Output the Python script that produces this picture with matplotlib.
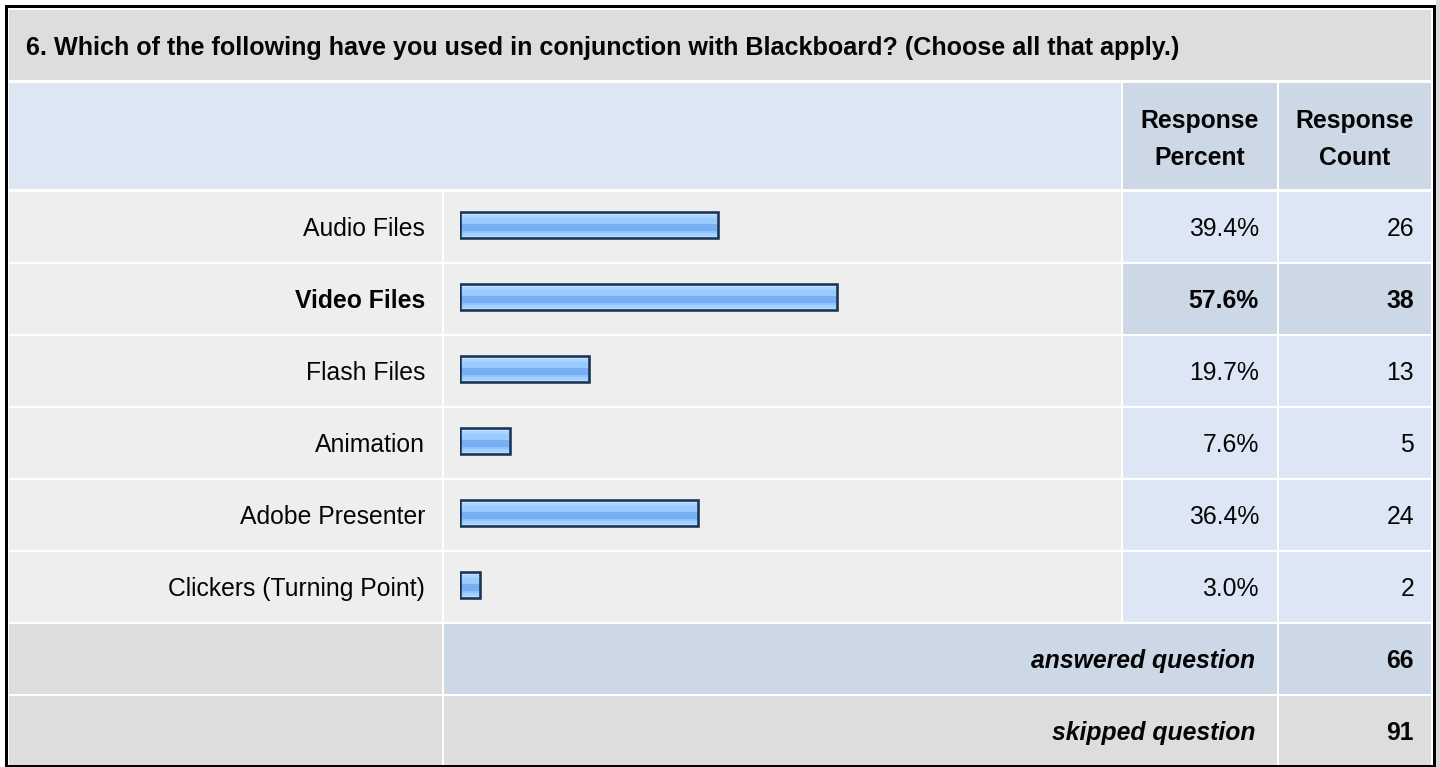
import matplotlib
matplotlib.use("Agg")
import matplotlib.pyplot as plt
from matplotlib.patches import Rectangle
import numpy as np

plt.rcParams['font.family'] = ['Liberation Sans', 'DejaVu Sans']

title = "6. Which of the following have you used in conjunction with Blackboard? (Choose all that apply.)"
categories = ["Audio Files", "Video Files", "Flash Files", "Animation",
              "Adobe Presenter", "Clickers (Turning Point)"]
percents = [39.4, 57.6, 19.7, 7.6, 36.4, 3.0]
counts = [26, 38, 13, 5, 24, 2]
header_pct = "Response\nPercent"
header_cnt = "Response\nCount"
answered_label = "answered question"
answered = 66
skipped_label = "skipped question"
skipped = 91

W, H = 1440, 767
DPI = 100
fig = plt.figure(figsize=(W / DPI, H / DPI), dpi=DPI)
fig.patch.set_facecolor('white')
ax = fig.add_axes([0, 0, 1, 1])
ax.set_xlim(0, W)
ax.set_ylim(H, 0)
ax.axis('off')

FS = 17.8  # ~24.5 px
TXT = '#050505'
GRAY = '#DDDDDD'
LIGHT = '#EEEEEE'
LBLUE = '#DCE6F4'
DBLUE = '#CCD8E6'

# column edges
cL = (9, 442)
cB = (444, 1121)
cP = (1123, 1277)
cC = (1279, 1431)


def cell(x0, x1, y0, y1, color):
    ax.add_patch(Rectangle((x0, y0), x1 - x0, y1 - y0, facecolor=color,
                           edgecolor='none', zorder=1))


# title row
cell(9, 1431, 10, 80, GRAY)
ax.text(26, 55, title, fontsize=FS * 1.018, fontweight='bold', ha='left',
        va='baseline', color=TXT, zorder=3)

# header row
cell(cL[0], cB[1], 83, 189, LBLUE)
cell(cP[0], cP[1], 83, 189, DBLUE)
cell(cC[0], cC[1], 83, 189, DBLUE)
for (x0, x1), txt in [(cP, header_pct), (cC, header_cnt)]:
    l1, l2 = txt.split("\n")
    ax.text((x0 + x1) / 2, 128, l1, fontsize=FS, fontweight='bold',
            ha='center', va='baseline', color=TXT, zorder=3)
    ax.text((x0 + x1) / 2, 165, l2, fontsize=FS, fontweight='bold',
            ha='center', va='baseline', color=TXT, zorder=3)

ROW0 = 192
RH = 72
n = len(categories)
imax = int(np.argmax(percents))
for i, (cat, p, c) in enumerate(zip(categories, percents, counts)):
    y0 = ROW0 + RH * i
    y1 = y0 + RH - 2
    hi = (i == imax)
    cell(cL[0], cL[1], y0, y1, LIGHT)
    cell(cB[0], cB[1], y0, y1, LIGHT)
    cell(cP[0], cP[1], y0, y1, DBLUE if hi else LBLUE)
    cell(cC[0], cC[1], y0, y1, DBLUE if hi else LBLUE)
    fw = 'bold' if hi else 'normal'
    base = y0 + 44
    ax.text(cL[1] - 17, base, cat, fontsize=FS, fontweight=fw, ha='right',
            va='baseline', color=TXT, zorder=3)
    ax.text(cP[1] - 18, base, f"{p:.1f}%", fontsize=FS, fontweight=fw, ha='right',
            va='baseline', color=TXT, zorder=3)
    ax.text(cC[1] - 17, base, f"{c}", fontsize=FS, fontweight=fw, ha='right',
            va='baseline', color=TXT, zorder=3)

# summary rows
ya = ROW0 + RH * n
cell(cL[0], cL[1], ya, ya + RH - 2, GRAY)
cell(cB[0], cP[1], ya, ya + RH - 2, DBLUE)
cell(cC[0], cC[1], ya, ya + RH - 2, DBLUE)
ax.text(cP[1] - 22, ya + 44, answered_label, fontsize=FS, fontweight='bold',
        fontstyle='italic', ha='right', va='baseline', color=TXT, zorder=3)
ax.text(cC[1] - 17, ya + 44, f"{answered}", fontsize=FS, fontweight='bold',
        ha='right', va='baseline', color=TXT, zorder=3)
ys = ya + RH
cell(cL[0], cL[1], ys, 766, GRAY)
cell(cB[0], cP[1], ys, 766, GRAY)
cell(cC[0], cC[1], ys, 766, GRAY)
ax.text(cP[1] - 22, ys + 44, skipped_label, fontsize=FS, fontweight='bold',
        fontstyle='italic', ha='right', va='baseline', color=TXT, zorder=3)
ax.text(cC[1] - 17, ys + 44, f"{skipped}", fontsize=FS, fontweight='bold',
        ha='right', va='baseline', color=TXT, zorder=3)

# outer border
ax.add_patch(Rectangle((5.5, 6), 1428, 759.5, facecolor='none', edgecolor='black',
                       linewidth=3 * 72 / DPI, zorder=5))
ax.add_patch(Rectangle((1435.5, 0), 5, H, facecolor='#D8D8D8', edgecolor='none', zorder=4))

# bars axes: 100% spans 460 -> 1115 px, rows 192 -> 624
bx0, bx1 = 460, 1115
by0, by1 = ROW0, ROW0 + RH * n
bax = fig.add_axes([bx0 / W, 1 - by1 / H, (bx1 - bx0) / W, (by1 - by0) / H])
bax.set_xlim(0, 100)
bax.set_ylim(n - 0.5, -0.5)
bax.axis('off')
bax.patch.set_alpha(0)

ypos = np.arange(n) - 0.04
bars = bax.barh(ypos, percents, height=0.37, facecolor='none', edgecolor='#1C3557',
                linewidth=2.6 * 72 / DPI, zorder=3)

grad_cols = ['#D6EBFF', '#C2E0FF', '#AAD4FF', '#9ACBFF', '#9ACBFF', '#9ACBFF',
             '#78AEF2', '#78AEF2', '#78AEF2', '#8DC2FF', '#9FD0FF', '#B5DBFF']
grad = np.array([[matplotlib.colors.to_rgb(c)] for c in grad_cols])
for b in bars:
    x, y, w, h = b.get_x(), b.get_y(), b.get_width(), b.get_height()
    im = bax.imshow(grad, extent=[x, x + w, y + h, y], aspect='auto',
                    interpolation='nearest', zorder=2)
    im.set_clip_path(b)
bax.set_xlim(0, 100)
bax.set_ylim(n - 0.5, -0.5)

fig.savefig('out.png', dpi=DPI, facecolor='white')
